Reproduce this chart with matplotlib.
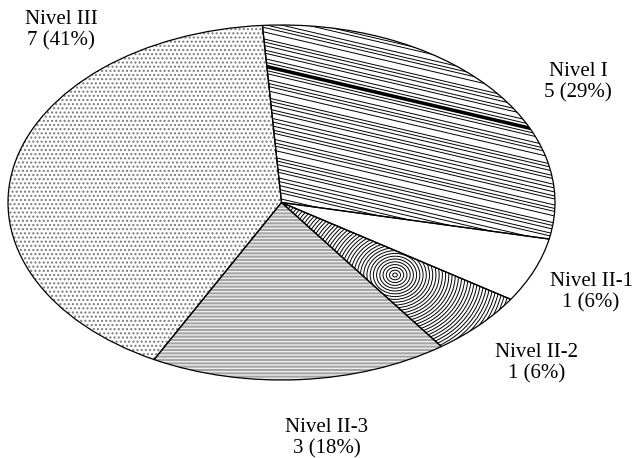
import matplotlib
matplotlib.use("Agg")
import matplotlib.pyplot as plt
from matplotlib.patches import Ellipse

plt.rcParams['hatch.linewidth'] = 1.0

# data
labels = ["Nivel I", "Nivel II-1", "Nivel II-2", "Nivel II-3", "Nivel III"]
counts = [5, 1, 1, 3, 7]
total = sum(counts)

# label positions (axes data units, ellipse radius = 1)
label_pos = [(1.084, 0.679), (1.132, -0.504), (0.934, -0.904), (0.166, -1.327), (-0.806, 0.972)]

W, H = 635, 458
CX, CY, RX, RY = 281.5, 202.5, 273.5, 177.5


def px(x, y):
    return (x - CX) / RX, (CY - y) / RY


fig = plt.figure(figsize=(W / 100, H / 100), dpi=100)
fig.patch.set_facecolor('white')
ax = fig.add_axes([(CX - RX) / W, (H - CY - RY) / H, 2 * RX / W, 2 * RY / H])

# fill layer (hatch colour follows edge colour)
fills = ['white', 'white', 'white', '#a4a4a4', 'white']
hatch_cols = ['black', 'black', 'black', '#ececec', '#7a7a7a']
hatches = [None, None, None, '-----', '....']
wedges, _ = ax.pie(counts, startangle=94, counterclock=False, colors=fills,
                   wedgeprops=dict(linewidth=0))
for w, hc, h in zip(wedges, hatch_cols, hatches):
    w.set_edgecolor(hc)
    w.set_linewidth(0)
    w.set_clip_on(False)
    if h:
        w.set_hatch(h)

# Nivel I: irregular slanted lines
gaps = [3.5, 4, 4, 3, 6, 3.5, 3, 4.5, 7, 3, 3.5, 4.5, 3, 5.5]
y0 = 0.0
i = 0
while y0 < 230:
    lw = 2.6 if 64 < y0 < 69 else 0.7
    xa, xb = 240, 580
    ua, va = px(xa, y0 + 0.234 * (xa - 262))
    ub, vb = px(xb, y0 + 0.234 * (xb - 262))
    ln, = ax.plot([ua, ub], [va, vb], color='black', lw=lw, solid_capstyle='butt')
    ln.set_clip_path(wedges[0])
    y0 += gaps[i % len(gaps)]
    i += 1

# Nivel II-2: concentric rings
sx, sy = px(395, 275)
r = 2.0
while r < 160:
    e = Ellipse((sx, sy), 2 * r * 1.15 / RX, 2 * r / RY, fill=False, lw=0.7, edgecolor='black')
    ax.add_patch(e)
    e.set_clip_path(wedges[2])
    r += 2.8

# outline layer
outl, _ = ax.pie(counts, startangle=94, counterclock=False,
                 wedgeprops=dict(fill=False, edgecolor='black', linewidth=0.9))
for w in outl:
    w.set_clip_on(False)

ax.set_aspect('auto')
ax.set_xlim(-1, 1)
ax.set_ylim(-1, 1)
ax.axis('off')

for name, c, (lx, ly) in zip(labels, counts, label_pos):
    pct = round(100 * c / total)
    ax.text(lx, ly, f"{name}\n{c} ({pct}%)", ha='center', va='center', multialignment='center',
            fontfamily='Liberation Serif', fontsize=15, linespacing=1.15, clip_on=False)

fig.savefig('out.png', dpi=100)
